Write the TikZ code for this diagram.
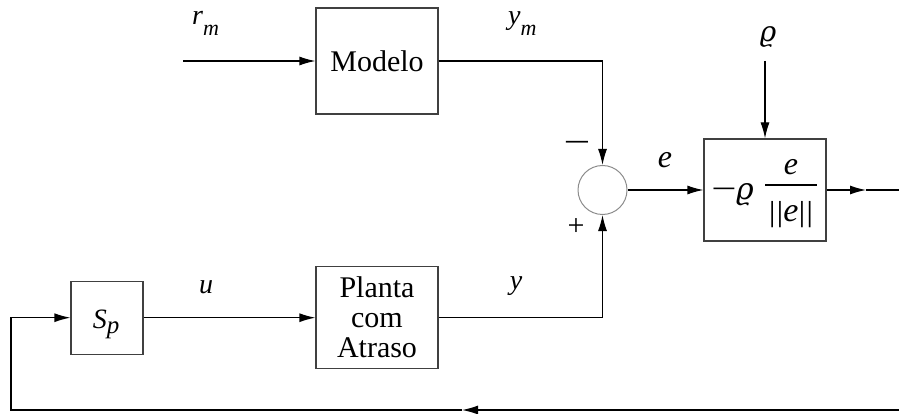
\documentclass[tikz,border=0pt]{standalone}
\usepackage{fontspec}
\setmainfont{Liberation Serif}
\newfontfamily\grk{DejaVu Serif}
\usetikzlibrary{arrows.meta}
\tikzset{
  blk/.style={draw=black!75, line width=1.2pt, inner sep=0pt, align=center, font=\rmfamily\fontsize{30}{30}\selectfont},
  conn/.style={line width=1.2pt, -{Latex[length=16pt,width=9pt]}},
  wire/.style={line width=1.2pt},
  lbl/.style={inner sep=0pt, font=\rmfamily\fontsize{28}{28}\selectfont\itshape},
  sgn/.style={inner sep=0pt, font=\rmfamily\fontsize{30}{30}\selectfont},
}
\newcommand\vsub[2]{#1\raisebox{-11pt}{\fontsize{22}{22}\selectfont #2}}
\newcommand\nbar{\scalebox{1}[0.85]{|}}
\newcommand\wminus{\scalebox{1.4}[1]{−}}
\begin{document}
\begin{tikzpicture}[x=1pt,y=-1pt]
\useasboundingbox (0,0) rectangle (899,414);
% blocks
\node[blk, minimum width=122pt, minimum height=106pt] (modelo) at (377,61) {Modelo};
\node[blk, minimum width=72pt, minimum height=73pt] (sp) at (107,317.7) {};
\node[lbl, anchor=base] (spl) at (106,328) {S\raisebox{-5pt}{\fontsize{25}{25}\selectfont p}};
\node[blk, minimum width=122pt, minimum height=102pt] (planta) at (377,317.7) {Planta\\com\\Atraso};
\node[blk, minimum width=122pt, minimum height=102pt] (ctl) at (765,190) {};
\node[circle, draw=black!45, line width=1pt, minimum size=49pt, inner sep=0pt] (sum) at (602.5,190) {};
% coordinates
\coordinate (rin) at (183,61);
\coordinate (rho) at (765,61);
\coordinate (outmid) at (866,190);
\coordinate (out) at (899,190);
\coordinate (fbr) at (899,410);
\coordinate (fbm) at (462,410);
\coordinate (fbl) at (11,410);
% connectors
\draw[conn] (rin) -- (modelo.west);
\draw[conn] (modelo.east) -| (sum.north);
\draw[conn] (planta.east) -| (sum.south);
\draw[conn] (sum.east) -- (ctl.west);
\draw[conn] (rho) -- (ctl.north);
\draw[conn] (ctl.east) -- (outmid);
\draw[wire] (outmid) -- (out);
\draw[conn] (fbr) -- (fbm);
\draw[conn] (fbm) -- (fbl) |- (sp.west);
\draw[conn] (sp.east) -- (planta.west);
% labels
\node[lbl, anchor=base west] (rm) at (192,25) {\vsub{r}{m}};
\node[lbl, anchor=base west] (ym) at (508,25) {\vsub{y}{m}};
\node[lbl, anchor=base] (ul) at (206,293) {u};
\node[lbl, anchor=base] (yl) at (516,289) {y};
\node[lbl, anchor=base, font=\rmfamily\fontsize{32}{32}\selectfont\itshape] (el) at (665,168) {e};
\node[lbl, anchor=base] (rhol) at (768,42) {\grk\fontsize{28}{28}\selectfont\itshape ϱ};
\node[sgn, font=\rmfamily\fontsize{34}{34}\selectfont, anchor=base] (minus) at (577,154) {\wminus};
\node[sgn, anchor=base] (plus) at (576,235) {+};
% controller contents
\node[sgn, font=\rmfamily\fontsize{32}{32}\selectfont, anchor=base] (cm) at (724,200) {\wminus};
\node[lbl, anchor=base] (cr) at (745,200) {\grk\fontsize{30}{30}\selectfont\itshape ϱ};
\coordinate (fl) at (765,185);
\coordinate (fr) at (817,185);
\draw[line width=1.5pt] (fl) -- (fr);
\node[lbl, anchor=base, font=\rmfamily\fontsize{32}{32}\selectfont\itshape] (num) at (791,175) {e};
\node[lbl, anchor=base, font=\rmfamily\fontsize{34}{34}\selectfont] (den) at (791,222) {\nbar\kern1pt\nbar\textit{e}\nbar\kern1pt\nbar};
\end{tikzpicture}
\end{document}
